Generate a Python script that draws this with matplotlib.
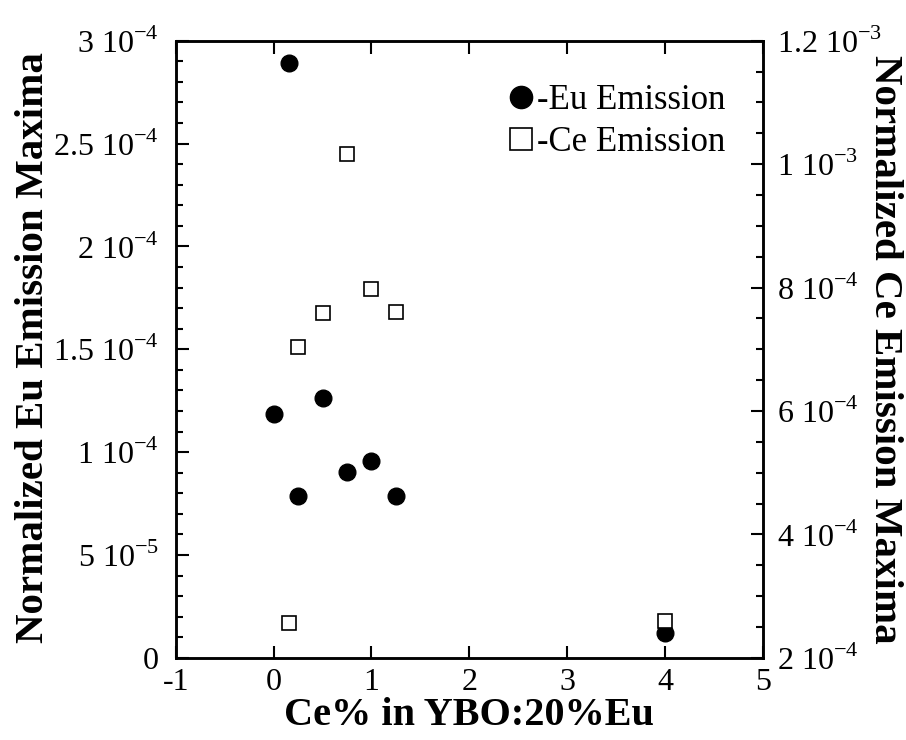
import numpy as np
import matplotlib
matplotlib.use('Agg')
import matplotlib.pyplot as plt
from matplotlib.ticker import MultipleLocator, FuncFormatter

plt.rcParams['font.family'] = ['Liberation Serif', 'DejaVu Serif']
plt.rcParams['mathtext.fontset'] = 'custom'
plt.rcParams['mathtext.rm'] = 'Liberation Serif'
plt.rcParams['axes.unicode_minus'] = False

# Eu emission (left axis)
eu_x = [0.16, 0.0, 0.5, 0.25, 0.75, 1.0, 1.25, 4.0]
eu_y = [2.89e-4, 1.186e-4, 1.262e-4, 0.789e-4, 0.903e-4, 0.959e-4, 0.789e-4, 0.12e-4]

# Ce emission (right axis)
ce_x = [0.75, 1.0, 0.5, 1.25, 0.25, 0.16, 4.0]
ce_y = [1.017e-3, 7.98e-4, 7.59e-4, 7.61e-4, 7.04e-4, 2.57e-4, 2.6e-4]


def sci_fmt(v, pos):
    if v == 0:
        return '0'
    exp = int(np.floor(np.log10(abs(v)) + 1e-9))
    mant = v / 10**exp
    m = ('%.1f' % mant).rstrip('0').rstrip('.')
    return m + r' 10$^{\mathregular{-%d}}$' % (-exp)


fig = plt.figure(figsize=(9.06, 7.4), dpi=100)
ax = fig.add_axes([0.194, 0.111, 0.648, 0.834])
ax2 = ax.twinx()

ax.plot(eu_x, eu_y, 'o', color='black', markersize=12, zorder=3)
ax2.plot(ce_x, ce_y, 's', mfc='white', mec='black', mew=1.2, markersize=10.5, zorder=2)

ax.set_xlim(-1, 5)
ax.set_ylim(0, 3e-4)
ax2.set_ylim(2e-4, 1.2e-3)

ax.xaxis.set_major_locator(MultipleLocator(1))
ax.yaxis.set_major_locator(MultipleLocator(5e-5))
ax.yaxis.set_minor_locator(MultipleLocator(1e-5))
ax2.yaxis.set_major_locator(MultipleLocator(2e-4))
ax2.yaxis.set_minor_locator(MultipleLocator(5e-5))
ax.yaxis.set_major_formatter(FuncFormatter(sci_fmt))
ax2.yaxis.set_major_formatter(FuncFormatter(sci_fmt))

ax.tick_params(axis='x', which='major', direction='in', top=True, length=9, width=1.5,
               labelsize=23, pad=7)
ax.tick_params(axis='y', which='major', direction='in', length=9, width=1.5, labelsize=23, pad=12)
ax.tick_params(axis='y', which='minor', direction='in', length=5, width=1.5)
ax2.tick_params(axis='y', which='major', direction='in', length=9, width=1.5, labelsize=23, pad=10)
ax2.tick_params(axis='y', which='minor', direction='in', length=5, width=1.5)
for a in (ax, ax2):
    for s in a.spines.values():
        s.set_linewidth(1.8)

ax.set_xlabel('Ce% in YBO:20%Eu', fontsize=29, fontweight='bold')
ax.set_ylabel('Normalized Eu Emission Maxima', fontsize=29.5, fontweight='bold')
ax2.set_ylabel('Normalized Ce Emission Maxima', fontsize=29.5, fontweight='bold', rotation=270)
ax.xaxis.set_label_coords(0.5, -0.063)
ax.yaxis.set_label_coords(-0.211, 0.503)
ax2.yaxis.set_label_coords(1.208, 0.5)
ax2.yaxis.label.set_va('center')

h1, = ax.plot([], [], 'o', color='black', markersize=16)
h2, = ax.plot([], [], 's', mfc='white', mec='black', mew=1.2, markersize=16)
ax.legend([h1, h2], ['-Eu Emission', '-Ce Emission'], loc='upper right',
          bbox_to_anchor=(725 / 906, 1 - 84 / 740), bbox_transform=fig.transFigure,
          frameon=False, fontsize=25, borderpad=0, borderaxespad=0,
          handlelength=0.9, handletextpad=0.0, labelspacing=0.25)

plt.savefig('out.png', dpi=100)
